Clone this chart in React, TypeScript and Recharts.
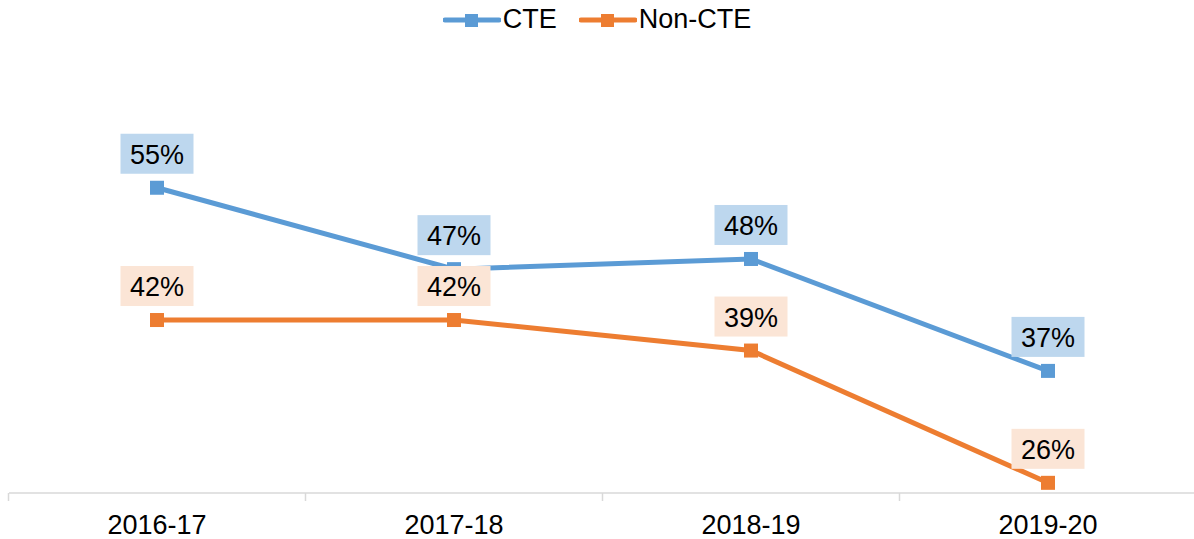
import React from "react";
import { LineChart, Line, XAxis, YAxis, LabelList } from "recharts";

const categories = ["2016-17", "2017-18", "2018-19", "2019-20"];
const cteValues = [55, 47, 48, 37];
const nonCteValues = [42, 42, 39, 26];

const data = categories.map((c, i) => ({ year: c, cte: cteValues[i], nonCte: nonCteValues[i] }));

const FONT = "'Liberation Sans', Arial, Helvetica, sans-serif";
const BLUE = "#5b9bd5";
const ORANGE = "#ed7d31";
const BLUE_BG = "#bdd7ee";
const ORANGE_BG = "#fbe5d6";

const CHART_W = 1196;
const CHART_H = 539;
const MARGIN = { top: 86, right: 0, bottom: 6, left: 9 };
const PAD = 148;
const STEP = (CHART_W - MARGIN.left - MARGIN.right - 2 * PAD) / (categories.length - 1);

const SquareDot = (color: string) => (props: any) => {
  const { cx, cy, index } = props;
  if (cx == null || cy == null) return <g key={index} />;
  return <rect key={index} x={cx - 7} y={cy - 7} width={14} height={14} fill={color} />;
};

const makeLabel = (bg: string) => (props: any) => {
  const { x, y, value, index } = props;
  const cx = Number(x);
  const cy = Number(y) - 34;
  return (
    <g key={index}>
      <rect x={cx - 36.5} y={cy - 20} width={73} height={40} fill={bg} />
      <text
        x={cx}
        y={cy + 1}
        textAnchor="middle"
        dominantBaseline="central"
        fontFamily={FONT}
        fontSize={27}
        fill="#000"
      >
        {`${value}%`}
      </text>
    </g>
  );
};

const Tick = (props: any) => {
  const { x, y, payload, index } = props;
  const last = index === categories.length - 1;
  return (
    <g>
      <line x1={x - STEP / 2} x2={x - STEP / 2} y1={y} y2={y + 8} stroke="#d9d9d9" strokeWidth={1.5} />
      {last && (
        <line x1={x + STEP / 2} x2={x + STEP / 2} y1={y} y2={y + 8} stroke="#d9d9d9" strokeWidth={1.5} />
      )}
      <text x={x} y={y + 32} textAnchor="middle" dominantBaseline="central" fontFamily={FONT} fontSize={27} fill="#000">
        {payload.value}
      </text>
    </g>
  );
};

const LegendItem = ({ color, label }: { color: string; label: string }) => (
  <div style={{ display: "flex", alignItems: "center", marginRight: 22 }}>
    <svg width={58} height={16}>
      <line x1={2} x2={56} y1={8} y2={8} stroke={color} strokeWidth={5} strokeLinecap="round" />
      <rect x={22} y={2} width={13} height={13} fill={color} />
    </svg>
    <span style={{ fontFamily: FONT, fontSize: 27, color: "#000", marginLeft: 2 }}>{label}</span>
  </div>
);

export default function App() {
  return (
    <div style={{ position: "absolute", left: 0, top: 0, width: 1194, height: 539, overflow: "hidden", background: "#fff" }}>
      <div style={{ position: "absolute", top: 4, left: 0, width: 1194, display: "flex", justifyContent: "center", paddingLeft: 22, boxSizing: "border-box" }}>
        <LegendItem color={BLUE} label="CTE" />
        <LegendItem color={ORANGE} label="Non-CTE" />
      </div>
      <LineChart width={CHART_W} height={CHART_H} data={data} margin={MARGIN}>
        <XAxis
          dataKey="year"
          padding={{ left: PAD, right: PAD }}
          axisLine={{ stroke: "#d9d9d9", strokeWidth: 1.5 }}
          tickLine={false}
          tickSize={0}
          tickMargin={0}
          height={40}
          interval={0}
          tick={<Tick />}
        />
        <YAxis hide domain={[25, 65]} type="number" allowDataOverflow />
        <Line
          dataKey="cte"
          stroke={BLUE}
          strokeWidth={5}
          dot={SquareDot(BLUE)}
          isAnimationActive={false}
        >
          <LabelList dataKey="cte" content={makeLabel(BLUE_BG)} />
        </Line>
        <Line
          dataKey="nonCte"
          stroke={ORANGE}
          strokeWidth={5}
          dot={SquareDot(ORANGE)}
          isAnimationActive={false}
        >
          <LabelList dataKey="nonCte" content={makeLabel(ORANGE_BG)} />
        </Line>
      </LineChart>
    </div>
  );
}
